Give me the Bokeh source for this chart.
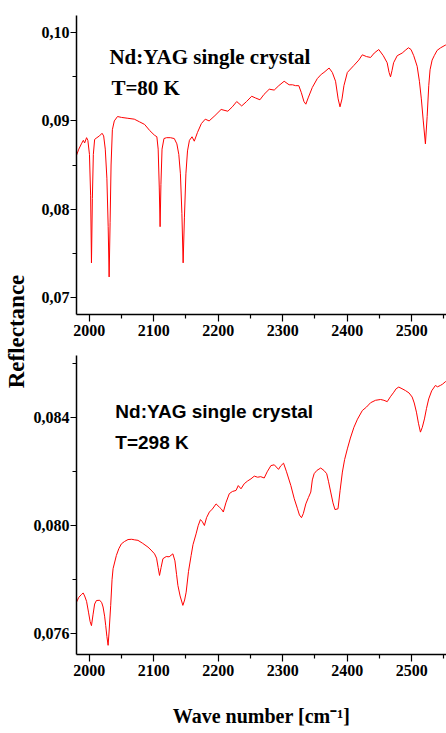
from bokeh.plotting import figure
from bokeh.layouts import row, column
from bokeh.models import Label, FixedTicker, Range1d
from bokeh.embed import file_html
from bokeh.resources import INLINE
import math

# ---------------- data ----------------
wn_80 = [1980.4, 1984, 1988, 1991, 1993, 1996, 1998, 2000.5, 2002.3, 2003.6, 2005, 2006.5, 2008.5,
         2012, 2016, 2020, 2022.5, 2025, 2027.5, 2029.5, 2031, 2032.5, 2034, 2036, 2039, 2044,
         2050, 2060, 2070, 2078, 2086, 2094, 2101, 2105, 2107, 2108.7, 2110, 2111.3, 2113, 2116,
         2120, 2126, 2132, 2136, 2139, 2141.5, 2143.8, 2145.7, 2147.7, 2150, 2152.5, 2155.5,
         2159.5, 2163, 2168, 2174, 2180, 2186, 2195, 2204.6, 2215, 2222, 2228.8, 2236.5, 2244,
         2252, 2258, 2264.8, 2271, 2279.2, 2286.9, 2294, 2302.3, 2310, 2315.3, 2320, 2325, 2329,
         2333, 2335.9, 2340, 2346, 2353.7, 2360, 2364, 2372, 2377, 2382, 2386, 2388.9, 2392, 2395,
         2400.3, 2410.5, 2418, 2423.5, 2430, 2436.3, 2442, 2449, 2456, 2462, 2465, 2467.2, 2469.5,
         2472, 2477.6, 2485.3, 2490, 2495, 2499, 2503.2, 2508.5, 2512, 2515, 2518, 2521.3, 2524,
         2526.5, 2528.5, 2531.7, 2535, 2539.4, 2545, 2552.3, 2554]
refl_80 = [0.0861, 0.0868, 0.0874, 0.0878, 0.0875, 0.0881, 0.0878, 0.0862, 0.0815, 0.0739, 0.0812,
           0.0862, 0.0879, 0.0881, 0.0883, 0.0886, 0.0883, 0.0868, 0.0835, 0.0780, 0.0723, 0.0785,
           0.0850, 0.0890, 0.0900, 0.0905, 0.0904, 0.0903, 0.0902, 0.0899, 0.0896, 0.0889, 0.0884,
           0.0882, 0.0868, 0.0825, 0.0780, 0.0828, 0.0868, 0.0880, 0.0881, 0.0881, 0.0880, 0.0874,
           0.0862, 0.0840, 0.0795, 0.0739, 0.0790, 0.0840, 0.0866, 0.0878, 0.0882, 0.0877, 0.0887,
           0.0897, 0.0902, 0.0900, 0.0906, 0.0913, 0.0911, 0.0916, 0.0922, 0.0917, 0.0922, 0.0928,
           0.0926, 0.0924, 0.0930, 0.0936, 0.0935, 0.0940, 0.0945, 0.0941, 0.0941, 0.0940, 0.0940,
           0.0932, 0.0922, 0.0919, 0.0927, 0.0938, 0.0948, 0.0953, 0.0955, 0.0960, 0.0955, 0.0945,
           0.0925, 0.0916, 0.0925, 0.0940, 0.0955, 0.0963, 0.0969, 0.0975, 0.0973, 0.0972, 0.0977,
           0.0981, 0.0974, 0.0966, 0.0955, 0.0950, 0.0957, 0.0966, 0.0974, 0.0977, 0.0980, 0.0983,
           0.0981, 0.0974, 0.0962, 0.0945, 0.0925, 0.0900, 0.0874, 0.0905, 0.0940, 0.0958, 0.0969,
           0.0974, 0.0980, 0.0983, 0.0986, 0.0986]

wn_298 = [1980.4, 1984, 1988, 1990.7, 1993, 1996, 1999, 2001.5, 2003.6, 2006, 2008.5, 2011.3, 2016.4,
          2019.5, 2021.6, 2024, 2025.7, 2027.5, 2029.4, 2031, 2033.4, 2035.5, 2037.1, 2042.2, 2046,
          2050, 2055, 2060.3, 2066, 2070, 2075.7, 2083, 2091.2, 2096, 2101.4, 2104.5, 2107, 2109.1,
          2111.5, 2114.4, 2119.5, 2124, 2129.8, 2133, 2135.5, 2137.6, 2141, 2145.3, 2148, 2150.4,
          2154, 2158.1, 2161, 2165.8, 2169, 2172.5, 2175.5, 2178.7, 2182, 2186.4, 2191, 2196.8,
          2201.9, 2205, 2208, 2212, 2217.3, 2222, 2227.7, 2231.2, 2235.4, 2240.5, 2245.7, 2250.9,
          2256, 2261.2, 2266, 2271.4, 2276, 2281.8, 2287, 2293.6, 2297, 2301.4, 2306, 2312.7, 2318,
          2323, 2326, 2329.2, 2332, 2335.9, 2340, 2343.6, 2346, 2348.8, 2353, 2359, 2364, 2368.3,
          2371, 2374.5, 2378, 2381.1, 2385.8, 2389, 2392.6, 2396, 2400.3, 2405, 2410.5, 2416,
          2423.5, 2430, 2436.3, 2444, 2451.8, 2457, 2462.1, 2467, 2472.3, 2476, 2480, 2485, 2490.4,
          2496, 2500.8, 2504, 2507.4, 2510.5, 2513.6, 2516.5, 2519.8, 2523, 2526.4, 2531, 2536.8,
          2540, 2544.5, 2548, 2552.3, 2554]
refl_298 = [0.07717, 0.07735, 0.07745, 0.07751, 0.07740, 0.07720, 0.07680, 0.07645, 0.07630, 0.07670,
            0.07710, 0.07723, 0.07724, 0.07715, 0.07699, 0.07665, 0.07630, 0.07590, 0.07557, 0.07610,
            0.07705, 0.07800, 0.07841, 0.07890, 0.07915, 0.07933, 0.07942, 0.07949, 0.07950, 0.07948,
            0.07946, 0.07935, 0.07921, 0.07910, 0.07896, 0.07880, 0.07845, 0.07816, 0.07845, 0.07878,
            0.07886, 0.07885, 0.07896, 0.07870, 0.07820, 0.07779, 0.07740, 0.07705, 0.07725, 0.07754,
            0.07830, 0.07890, 0.07930, 0.07970, 0.08000, 0.08023, 0.08015, 0.08001, 0.08030, 0.08051,
            0.08062, 0.08081, 0.08069, 0.08062, 0.08051, 0.08085, 0.08119, 0.08127, 0.08131, 0.08149,
            0.08137, 0.08156, 0.08166, 0.08174, 0.08184, 0.08180, 0.08182, 0.08177, 0.08200, 0.08223,
            0.08226, 0.08209, 0.08222, 0.08232, 0.08200, 0.08149, 0.08100, 0.08063, 0.08040, 0.08030,
            0.08045, 0.08081, 0.08105, 0.08125, 0.08170, 0.08193, 0.08205, 0.08214, 0.08205, 0.08193,
            0.08165, 0.08125, 0.08085, 0.08060, 0.08063, 0.08130, 0.08199, 0.08245, 0.08285, 0.08325,
            0.08365, 0.08395, 0.08427, 0.08440, 0.08456, 0.08465, 0.08468, 0.08465, 0.08460, 0.08478,
            0.08495, 0.08508, 0.08514, 0.08508, 0.08501, 0.08492, 0.08477, 0.08455, 0.08421, 0.08380,
            0.08347, 0.08365, 0.08396, 0.08435, 0.08470, 0.08500, 0.08520, 0.08515, 0.08520, 0.08525,
            0.08534, 0.08535]

x_ticks = [2000, 2100, 2200, 2300, 2400, 2500]
x_minor = [2050, 2150, 2250, 2350, 2450, 2550]
x_labels = ["2000", "2100", "2200", "2300", "2400", "2500"]

y_ticks_80 = [0.07, 0.08, 0.09, 0.10]
y_minor_80 = [0.075, 0.085, 0.095]
y_labels_80 = ["0,07", "0,08", "0,09", "0,10"]

y_ticks_298 = [0.076, 0.080, 0.084]
y_minor_298 = [0.078, 0.082, 0.086]
y_labels_298 = ["0,076", "0,080", "0,084"]

title_line1 = "Nd:YAG single crystal"
title_80 = "T=80 K"
title_298 = "T=298 K"

SERIF = "Liberation Serif"
SANS = "Liberation Sans"

x_range = Range1d(1980.4, 2554)


def style_axes(p, yt, ym, yl):
    p.xaxis.ticker = FixedTicker(ticks=x_ticks, minor_ticks=x_minor)
    p.xaxis.major_label_overrides = dict(zip(x_ticks, x_labels))
    p.yaxis.ticker = FixedTicker(ticks=yt, minor_ticks=ym)
    p.yaxis.major_label_overrides = dict(zip(yt, yl))
    for ax in (p.xaxis[0], p.yaxis[0]):
        ax.axis_line_color = "black"
        ax.axis_line_width = 1.5
        ax.major_tick_line_color = "black"
        ax.minor_tick_line_color = "black"
        ax.major_tick_line_width = 1.2
        ax.minor_tick_line_width = 1.2
        ax.major_tick_in = 0
        ax.minor_tick_in = 0
        ax.major_tick_out = 7
        ax.minor_tick_out = 4
        ax.major_label_text_font = SERIF
        ax.major_label_text_font_style = "bold"
        ax.major_label_text_font_size = "16px"
        ax.major_label_text_color = "black"
    p.yaxis.major_tick_out = 6
    p.yaxis.major_label_standoff = 1
    p.xaxis.major_label_standoff = 3
    p.xgrid.visible = False
    p.ygrid.visible = False
    p.outline_line_color = None


# ---------------- top panel ----------------
p1 = figure(width=416, height=343, x_range=x_range, y_range=Range1d(0.06804, 0.10196),
            output_backend="svg", toolbar_location=None,
            min_border_left=45, min_border_right=0, min_border_top=15, min_border_bottom=29)
p1.line(wn_80, refl_80, line_color="#ff0000", line_width=1)
style_axes(p1, y_ticks_80, y_minor_80, y_labels_80)
p1.add_layout(Label(x=2031.4, y=0.0973, text=title_line1, text_font=SERIF, text_font_style="bold",
                    text_font_size="21px", text_color="black", text_baseline="alphabetic"))
p1.add_layout(Label(x=2034.5, y=0.09368, text=title_80, text_font=SERIF, text_font_style="bold",
                    text_font_size="21px", text_color="black", text_baseline="alphabetic"))

# ---------------- bottom panel ----------------
p2 = figure(width=416, height=390, x_range=x_range, y_range=Range1d(0.07523, 0.08631),
            output_backend="svg", toolbar_location=None,
            min_border_left=45, min_border_right=0, min_border_top=12, min_border_bottom=79)
p2.line(wn_298, refl_298, line_color="#ff0000", line_width=1)
style_axes(p2, y_ticks_298, y_minor_298, y_labels_298)
p2.xaxis.axis_label = "Wave number [cm\u207b\u00b9]"
p2.xaxis.axis_label_text_font = SERIF
p2.xaxis.axis_label_text_font_style = "bold"
p2.xaxis.axis_label_text_font_size = "20px"
p2.xaxis.axis_label_text_color = "black"
p2.xaxis.axis_label_standoff = 26
p2.add_layout(Label(x=2040.6, y=0.08423, text=title_line1, text_font=SANS, text_font_style="bold",
                    text_font_size="19px", text_color="black", text_baseline="alphabetic"))
p2.add_layout(Label(x=2040.6, y=0.08307, text=title_298, text_font=SANS, text_font_style="bold",
                    text_font_size="19px", text_color="black", text_baseline="alphabetic"))

# ---------------- shared y label ----------------
pl = figure(width=30, height=733, output_backend="svg", toolbar_location=None,
            min_border=0, outline_line_color=None)
pl.axis.visible = False
pl.grid.visible = False
pl.add_layout(Label(x=16, y=402, x_units="screen", y_units="screen", text="Reflectance",
                    angle=math.pi / 2, text_align="center", text_baseline="middle",
                    text_font=SERIF, text_font_style="bold", text_font_size="23px",
                    text_color="black"))

layout = row(pl, column(p1, p2))
open("out.html", "w").write(file_html(layout, INLINE))
